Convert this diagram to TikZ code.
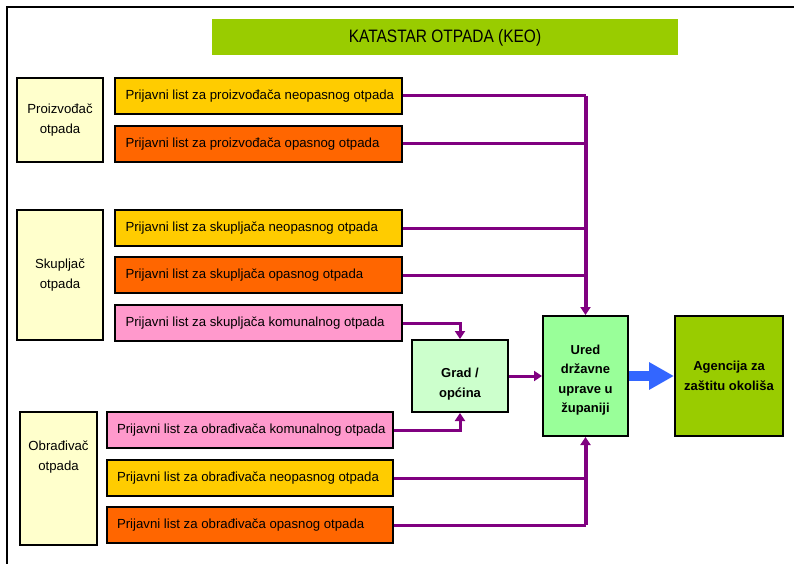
\documentclass[tikz,border=0pt]{standalone}
\usepackage{fontspec}
\setmainfont{Liberation Sans}
\newfontfamily\titlefont[FakeStretch=0.86]{Liberation Sans}
\usetikzlibrary{arrows.meta}
\definecolor{titlegreen}{HTML}{99CC00}
\definecolor{ylw}{HTML}{FFCC00}
\definecolor{orng}{HTML}{FF6600}
\definecolor{pnk}{HTML}{FF99CC}
\definecolor{lightylw}{HTML}{FFFFCC}
\definecolor{gradgreen}{HTML}{CCFFCC}
\definecolor{uredgreen}{HTML}{99FF99}
\definecolor{agencygreen}{HTML}{99CC00}
\definecolor{purp}{HTML}{800080}
\definecolor{bluearrow}{HTML}{3366FF}
\tikzset{
  basebox/.style={draw=black, line width=1.6pt, rectangle, inner sep=0pt, font=\fontsize{13.2}{20}\selectfont},
  listbox/.style={basebox, minimum width=287pt, minimum height=36pt},
  actorbox/.style={basebox, fill=lightylw, align=center},
  greenbox/.style={basebox, line width=2pt, align=center, font=\bfseries\fontsize{13}{19.5}\selectfont},
  greentext/.style={align=center, font=\bfseries\fontsize{13}{19.5}\selectfont},
  conn/.style={draw=purp, line width=3pt},
  trunk/.style={draw=purp, line width=4pt},
  tip/.style={-{Triangle[width=10pt,length=8pt]}}
}
\newcommand{\lt}[1]{\makebox[266pt][l]{#1}}
\begin{document}
\begin{tikzpicture}[x=1pt,y=-1pt]
\useasboundingbox (0,0) rectangle (794,564);
\draw[line width=2.4pt] (7,564) -- (7,7) -- (794,7);
\node[fill=titlegreen, minimum width=466pt, minimum height=36pt, inner sep=0pt, font=\titlefont\fontsize{18}{20}\selectfont] (title) at (445,37.5) {KATASTAR OTPADA (KEO)};
% actors
\node[actorbox, minimum width=86pt, minimum height=84pt] (prod) at (60,120) {Proizvođač\\otpada};
\node[actorbox, minimum width=86pt, minimum height=130pt] (skup) at (60,275) {Skupljač\\otpada};
\node[basebox, fill=lightylw, minimum width=77pt, minimum height=133pt,
  label={[yshift=21pt, align=center, font=\fontsize{13.2}{20}\selectfont]center:Obrađivač\\otpada}] (obr) at (58.5,478.5) {};
% list boxes
\node[listbox, fill=ylw] (b1) at (258.5,96) {\lt{Prijavni list za proizvođača neopasnog otpada}};
\node[listbox, fill=orng] (b2) at (258.5,144) {\lt{Prijavni list za proizvođača opasnog otpada}};
\node[listbox, fill=ylw] (b3) at (258.5,228) {\lt{Prijavni list za skupljača neopasnog otpada}};
\node[listbox, fill=orng] (b4) at (258.5,275) {\lt{Prijavni list za skupljača opasnog otpada}};
\node[listbox, fill=pnk] (b5) at (258.5,323) {\lt{Prijavni list za skupljača komunalnog otpada}};
\node[listbox, fill=pnk, minimum width=286pt] (b6) at (250,430) {\lt{Prijavni list za obrađivača komunalnog otpada}};
\node[listbox, fill=ylw, minimum width=286pt] (b7) at (250,478) {\lt{Prijavni list za obrađivača neopasnog otpada}};
\node[listbox, fill=orng, minimum width=286pt] (b8) at (250,525) {\lt{Prijavni list za obrađivača opasnog otpada}};
% green boxes
\node[greenbox, fill=gradgreen, minimum width=96pt, minimum height=72pt,
  label={[greentext, yshift=-8pt]center:Grad /\\općina}] (grad) at (460,376) {};
\node[greenbox, fill=uredgreen, minimum width=85pt, minimum height=120pt,
  label={[greentext, yshift=-4pt]center:Ured\\državne\\uprave u\\županiji}] (ured) at (585.5,376) {};
\node[greenbox, fill=agencygreen, minimum width=108pt, minimum height=120pt] (agency) at (729,376) {Agencija za\\zaštitu okoliša};
% connectors to Ured (top)
\draw[conn] (b1.east) -- (b1.east -| ured.north);
\draw[conn] (b2.east) -- (b2.east -| ured.north);
\draw[conn] (b3.east) -- (b3.east -| ured.north);
\draw[conn] (b4.east) -- (b4.east -| ured.north);
\draw[trunk, tip] (b1.east -| ured.north) -- (ured.north);
% connectors to Ured (bottom)
\draw[conn] (b7.east) -- (b7.east -| ured.south);
\draw[conn] (b8.east) -- (b8.east -| ured.south);
\draw[trunk, tip] (b8.east -| ured.south) -- (ured.south);
% Grad
\draw[conn, tip] (b5.east) -| (grad.north);
\draw[conn, tip] (b6.east) -| (grad.south);
\draw[conn, tip] (grad.east) -- (grad.east -| ured.west);
% blue arrow
\draw[draw=bluearrow, line width=10pt, -{Triangle[width=26pt,length=25pt]}] (ured.east) -- (agency.west);
\end{tikzpicture}
\end{document}
